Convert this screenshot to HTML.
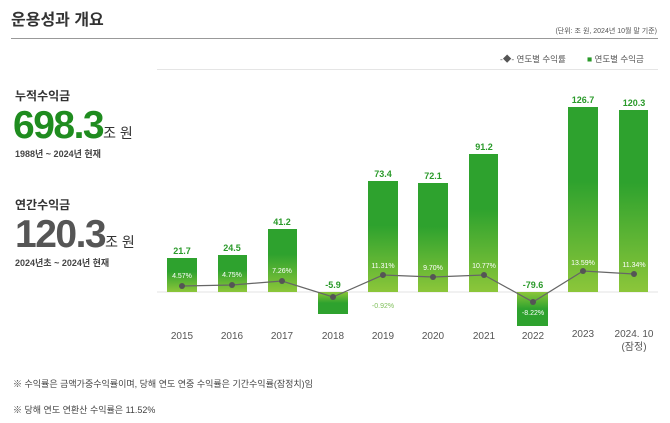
<!DOCTYPE html>
<html><head><meta charset="utf-8"><style>
body{margin:0;width:670px;height:423px;background:#fff;font-family:"Liberation Sans","Noto Sans CJK KR",sans-serif;overflow:hidden;position:relative}
.a{position:absolute;white-space:nowrap}
</style></head><body>
<div class="a" style="left:11px;top:6px;font-size:16px;font-weight:bold;color:#333">운용성과 개요</div>
<div class="a" style="right:13px;top:26px;font-size:7px;color:#555">(단위: 조 원, 2024년 10월 말 기준)</div>
<div class="a" style="left:11px;top:38px;width:647px;height:1px;background:#999"></div>
<div class="a" style="left:500px;top:53px;font-size:8.5px;color:#555">-◆- 연도별 수익률</div>
<div class="a" style="left:587px;top:53px;font-size:8.5px;color:#555"><span style="color:#2a9a2a">■</span> 연도별 수익금</div>
<div class="a" style="left:157px;top:69px;width:501px;height:1px;background:#e5e5e5"></div>
<div class="a" style="left:15px;top:87px;font-size:12px;font-weight:bold;color:#333">누적수익금</div>
<div class="a" style="left:13px;top:104px;font-size:39px;font-weight:bold;color:#1f8c1f;letter-spacing:-1.5px;line-height:44px">698.3<span style="font-size:14px;font-weight:normal;color:#333;letter-spacing:0">조 원</span></div>
<div class="a" style="left:15px;top:147px;font-size:9px;font-weight:bold;color:#444">1988년 ~ 2024년 현재</div>
<div class="a" style="left:15px;top:196px;font-size:12px;font-weight:bold;color:#333">연간수익금</div>
<div class="a" style="left:15px;top:213px;font-size:39px;font-weight:bold;color:#555;letter-spacing:-1.5px;line-height:44px">120.3<span style="font-size:14px;font-weight:normal;color:#333;letter-spacing:0">조 원</span></div>
<div class="a" style="left:15px;top:256px;font-size:9px;font-weight:bold;color:#444">2024년초 ~ 2024년 현재</div>
<svg class="a" style="left:0;top:0" width="670" height="423" font-family="Liberation Sans,Noto Sans CJK KR,sans-serif">
<defs><linearGradient id="g" x1="0" y1="0" x2="0" y2="1"><stop offset="0.4" stop-color="#2ea22e"/><stop offset="1" stop-color="#8cc63a"/></linearGradient>
<linearGradient id="n" x1="0" y1="0" x2="0" y2="1"><stop offset="0" stop-color="#8cc63a"/><stop offset="0.5" stop-color="#2ea22e"/></linearGradient></defs>
<line x1="157" y1="292" x2="658" y2="292" stroke="#e3e3e3"/>
<g fill="url(#g)">
<rect x="167" y="258" width="30" height="34"/><rect x="218" y="255" width="29" height="37"/>
<rect x="268" y="229" width="29" height="63"/><rect x="368" y="181" width="30" height="111"/>
<rect x="418" y="183" width="30" height="109"/><rect x="469" y="154" width="29" height="138"/>
<rect x="568" y="107" width="30" height="185"/><rect x="619" y="110" width="29" height="182"/></g>
<g fill="url(#n)"><rect x="318" y="292" width="30" height="22"/><rect x="517" y="292" width="31" height="34"/></g>
<g font-size="9" font-weight="bold" fill="#2a9a2a" text-anchor="middle">
<text x="182" y="254">21.7</text><text x="232" y="251">24.5</text><text x="282" y="225">41.2</text><text x="333" y="288">-5.9</text>
<text x="383" y="177">73.4</text><text x="433" y="179">72.1</text><text x="484" y="150">91.2</text><text x="533" y="288">-79.6</text>
<text x="583" y="103">126.7</text><text x="634" y="106">120.3</text></g>
<polyline fill="none" stroke="#666" stroke-width="1.2" points="182,286 232,285 282,281 333,297 383,275 433,277 484,275 533,302 583,271 634,274"/>
<g fill="#555"><circle cx="182" cy="286" r="3"/><circle cx="232" cy="285" r="3"/><circle cx="282" cy="281" r="3"/><circle cx="333" cy="297" r="3"/><circle cx="383" cy="275" r="3"/><circle cx="433" cy="277" r="3"/><circle cx="484" cy="275" r="3"/><circle cx="533" cy="302" r="3"/><circle cx="583" cy="271" r="3"/><circle cx="634" cy="274" r="3"/></g>
<g font-size="7" fill="#fff" text-anchor="middle">
<text x="182" y="278">4.57%</text><text x="232" y="277">4.75%</text><text x="282" y="273">7.26%</text><text x="383" y="268">11.31%</text>
<text x="433" y="270">9.70%</text><text x="484" y="268">10.77%</text><text x="533" y="315">-8.22%</text><text x="583" y="265">13.59%</text><text x="634" y="267">11.34%</text>
<text x="383" y="308" fill="#7fbf5a">-0.92%</text></g>
<g font-size="10" fill="#555" text-anchor="middle">
<text x="182" y="339">2015</text><text x="232" y="339">2016</text><text x="282" y="339">2017</text><text x="333" y="339">2018</text>
<text x="383" y="339">2019</text><text x="433" y="339">2020</text><text x="484" y="339">2021</text><text x="533" y="339">2022</text>
<text x="583" y="337">2023</text><text x="634" y="337">2024. 10</text><text x="634" y="350">(잠정)</text></g>
</svg>
<div class="a" style="left:13px;top:377px;font-size:9px;color:#444">※ 수익률은 금액가중수익률이며, 당해 연도 연중 수익률은 기간수익률(잠정치)임</div>
<div class="a" style="left:13px;top:403px;font-size:9px;color:#444">※ 당해 연도 연환산 수익률은 11.52%</div>
</body></html>
